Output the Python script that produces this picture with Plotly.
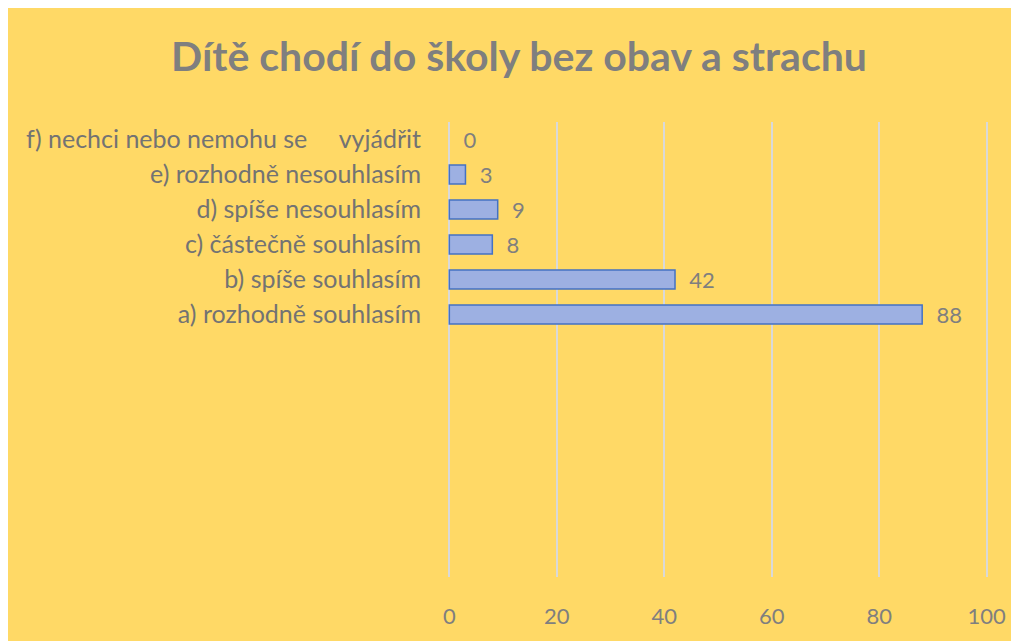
import plotly.graph_objects as go

# answers to the question, ordered bottom to top as in the original sheet
categories = [
    "a) rozhodně souhlasím",
    "b) spíše souhlasím",
    "c) částečně souhlasím",
    "d) spíše nesouhlasím",
    "e) rozhodně nesouhlasím",
    "f) nechci nebo nemohu se\u00a0\u00a0\u00a0\u00a0 vyjádřit",
]
counts = [88, 42, 8, 9, 3, 0]
x_ticks = [0, 20, 40, 60, 80, 100]

YELLOW = "#FFD966"
GRAY = "#7F7F7F"
FONT = "Lato"
# the page body adds an 8px offset, so the figure is a bit smaller than the window
W, H = 1011, 633

fig = go.Figure()
fig.add_trace(go.Bar(
    y=categories,
    x=counts,
    orientation="h",
    width=0.54,
    marker=dict(color="#9DB0E2",
                line=dict(color="#4472C4",
                          width=[1.5 if c > 0 else 0 for c in counts])),
    text=counts,
    texttemplate="\u00a0\u00a0%{text}",
    textposition="outside",
    constraintext="none",
    cliponaxis=False,
    textfont=dict(family=FONT, size=22, color=GRAY),
))

fig.update_layout(
    width=W, height=H,
    margin=dict(l=440, r=31, t=114, b=59),
    paper_bgcolor=YELLOW,
    plot_bgcolor=YELLOW,
    showlegend=False,
    title=dict(text="<b>Dítě chodí do školy bez obav a strachu</b>",
               x=511 / W, xanchor="center", xref="container",
               y=1 - 49 / H, yanchor="middle", yref="container",
               font=dict(family=FONT, size=41, color=GRAY)),
    font=dict(family=FONT, color=GRAY),
)
# range padded a hair so the gridlines at 0 and 100 are still drawn
fig.update_xaxes(range=[-0.25, 100.25], tickvals=x_ticks, showgrid=True,
                 gridcolor="#D9D9D9", gridwidth=1.5, zeroline=False,
                 showline=False, ticklabelstandoff=24,
                 tickfont=dict(size=22, color=GRAY))
fig.update_yaxes(type="category", categoryorder="array", categoryarray=categories,
                 range=[-7.5, 5.5], showgrid=False, showline=False,
                 ticklabelstandoff=26,
                 tickfont=dict(size=25, color="#737373"))

fig.write_html("out.html")
